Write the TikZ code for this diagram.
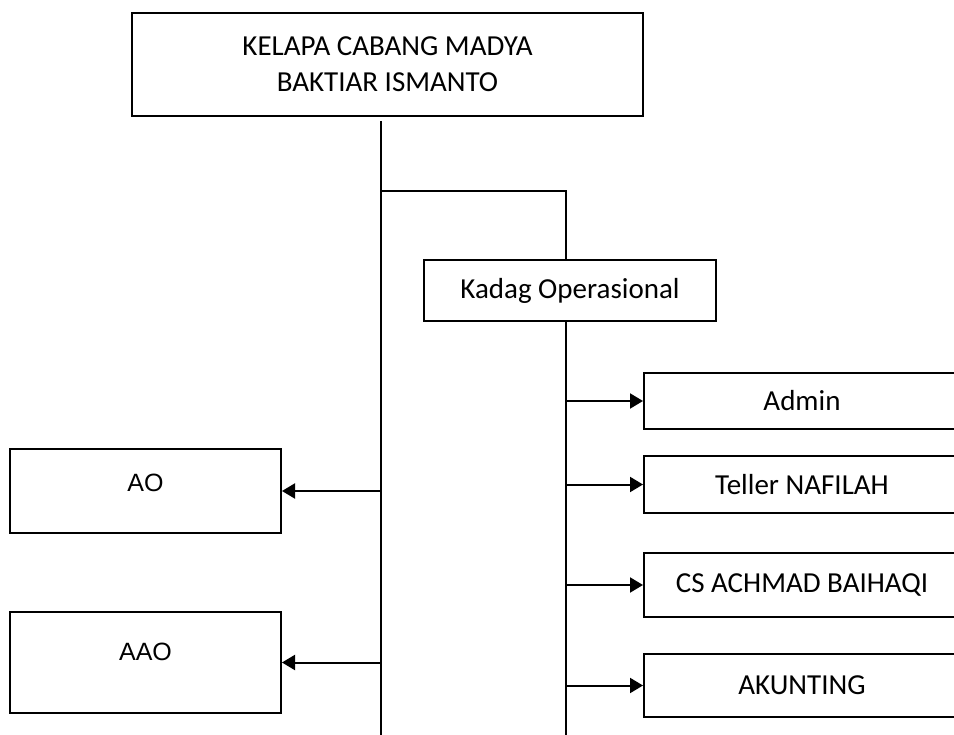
\documentclass[tikz,border=0pt]{standalone}
\usepackage{fontspec}
\setmainfont{Carlito}
\newfontfamily\aofont{Liberation Sans}
\usetikzlibrary{arrows.meta}

\begin{document}
\begin{tikzpicture}[x=1pt,y=-1pt,line width=1.3pt,
  box/.style={draw,rectangle,line width=2pt,inner sep=0pt,align=center,font=\fontsize{29}{36}\selectfont},
  sidebox/.style={box,minimum width=271pt},
  staffbox/.style={box,minimum width=316pt},
  sidetext/.style={font=\aofont\fontsize{25}{30}\selectfont,inner sep=0pt},
  arr/.style={line width=2pt,-{Triangle[length=13pt,width=15pt]}}]
\useasboundingbox (0,0) rectangle (954,735);
\node[box,minimum width=511pt,minimum height=103pt] (head) at (387.5,64.5) {KELAPA CABANG MADYA\\BAKTIAR ISMANTO};
\node[box,minimum width=292pt,minimum height=61pt] (kadag) at (570,290.5) {Kadag Operasional};
\node[staffbox,minimum height=56pt] (admin) at (802,401) {Admin};
\node[staffbox,minimum height=57pt] (teller) at (802,484.5) {Teller NAFILAH};
\node[staffbox,minimum height=64pt] (cs) at (802,585) {CS ACHMAD BAIHAQI};
\node[staffbox,minimum height=63pt] (akunting) at (802,685.5) {AKUNTING};
\node[sidebox,minimum height=84pt] (ao) at (145.5,491) {};
\node[sidebox,minimum height=101pt] (aao) at (145.5,662.5) {};
\node[sidetext] (ao-t) at (145.5,483) {AO};
\node[sidetext] (aao-t) at (145.5,652) {AAO};
\coordinate (top1) at (381,121);
\coordinate (bot1) at (381,735);
\coordinate (j1) at (381,191);
\coordinate (j2) at (566,191);
\coordinate (bot2) at (566,735);
\draw (top1) -- (bot1);
\draw (j1) -- (j2) -- (j2 |- kadag.north);
\draw (j2 |- kadag.south) -- (bot2);
\draw[arr] (j2 |- admin.west) -- (admin.west);
\draw[arr] (j2 |- teller.west) -- (teller.west);
\draw[arr] (j2 |- cs.west) -- (cs.west);
\draw[arr] (j2 |- akunting.west) -- (akunting.west);
\draw[arr] (j1 |- ao.east) -- (ao.east);
\draw[arr] (j1 |- aao.east) -- (aao.east);
\end{tikzpicture}
\end{document}
